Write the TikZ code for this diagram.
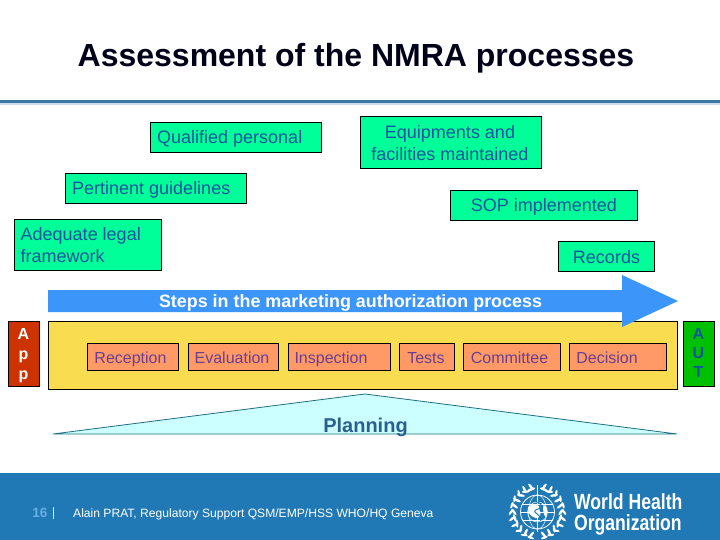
\documentclass[tikz,border=0pt]{standalone}
\usepackage{fontspec}
\setmainfont{Liberation Sans}
\usetikzlibrary{calc}
\definecolor{greenbox}{HTML}{00FF99}
\definecolor{bluetext}{HTML}{10559C}
\definecolor{arrowblue}{HTML}{3C96FA}
\definecolor{yellowbox}{HTML}{FADC50}
\definecolor{orangebox}{HTML}{FF9966}
\definecolor{purpletext}{HTML}{6A3F90}
\definecolor{footblue}{HTML}{2079B4}
\definecolor{rulecol}{HTML}{3B78A5}
\definecolor{trifill}{HTML}{CCFFFF}
\definecolor{tricol}{HTML}{1F6F80}
\definecolor{redbox}{HTML}{CC3300}
\definecolor{autbox}{HTML}{00C000}
\definecolor{plantext}{HTML}{2A6090}
\definecolor{numblue}{HTML}{66AEE8}
\newcommand{\fs}[1]{\fontsize{#1}{#1}\selectfont}
\tikzset{
  x=1pt,y=-1pt,
  gbox/.style={draw=black,line width=1pt,fill=greenbox,inner sep=0pt,anchor=north west},
  gtext/.style={text=bluetext,font=\fs{18},inner sep=0pt,align=left},
  pbox/.style={draw=black,line width=1pt,fill=orangebox,inner sep=0pt,minimum height=27pt,anchor=north west},
  ptext/.style={text=purpletext,font=\fs{16},inner sep=0pt,text height=11.5pt,text depth=3.5pt},
  sidebox/.style={draw=black,line width=.7pt,minimum width=31pt,minimum height=65pt,inner sep=0pt,anchor=north west},
  sidetext/.style={font=\bfseries\fs{16},inner sep=0pt,text height=11.5pt,text depth=3.5pt},
}
\begin{document}
\begin{tikzpicture}
\useasboundingbox (0,0) rectangle (720,540);
\fill[white] (0,0) rectangle (720,540);
% title and rule
\node[font=\bfseries\fs{32},text=black!90!blue,inner sep=0pt] (title) at (356,58) {Assessment of the NMRA processes};
\fill[rulecol] (0,100) rectangle (720,103.5);
\fill[rulecol!25] (0,103.5) rectangle (720,105);
% green boxes
\node[gbox,minimum width=171pt,minimum height=30pt] (qual) at (150,122) {};
\node[gtext,anchor=west] (qualt) at (157,139) {Qualified personal};
\node[gbox,minimum width=181pt,minimum height=30pt] (pert) at (65,173) {};
\node[gtext,anchor=west] (pertt) at (72,190) {Pertinent guidelines};
\node[gbox,minimum width=147pt,minimum height=51pt] (legal) at (14,219) {};
\node[gtext,anchor=west] (legalt) at (20.5,245) {Adequate legal\\[4pt]framework};
\node[gbox,minimum width=181pt,minimum height=52pt] (equip) at (360,116) {};
\node[gtext,align=center] (equipt) at (450,143.5) {Equipments and\\[4pt]facilities maintained};
\node[gbox,minimum width=187pt,minimum height=30pt] (sop) at (450,190) {};
\node[gtext] (sopt) at (544,207) {SOP implemented};
\node[gbox,minimum width=96pt,minimum height=30pt] (rec) at (558,241) {};
\node[gtext] (rect) at (606.5,257) {Records};
% yellow band
\node[draw=black,line width=1pt,fill=yellowbox,minimum width=629pt,minimum height=68pt,inner sep=0pt,anchor=north west] (band) at (48,321) {};
% arrow
\fill[arrowblue] (48,290) -- (622,290) -- (622,275) -- (678,301) -- (622,327) -- (622,312) -- (48,312) -- cycle;
\node[text=white,font=\bfseries\fs{17.9},inner sep=0pt] (steps) at (350.5,303) {Steps in the marketing authorization process};
% side boxes
\node[sidebox,fill=redbox] (app) at (8,321) {};
\node[sidetext,text=white] (app1) at (23.5,335) {A};
\node[sidetext,text=white] (app2) at (23.5,355) {p};
\node[sidetext,text=white] (app3) at (23.5,375) {p};
\node[sidebox,fill=autbox] (aut) at (683,321) {};
\node[sidetext,text=bluetext] (aut1) at (698.5,335) {A};
\node[sidetext,text=bluetext] (aut2) at (698.5,354) {U};
\node[sidetext,text=bluetext] (aut3) at (698.5,373.5) {T};
% process boxes
\node[pbox,minimum width=91pt] (b1) at (87,343) {};
\node[ptext] (b1t) at (130.5,359) {Reception};
\node[pbox,minimum width=90pt] (b2) at (188,343) {};
\node[ptext] (b2t) at (232,359) {Evaluation};
\node[pbox,minimum width=102pt] (b3) at (288,343) {};
\node[ptext] (b3t) at (331,359) {Inspection};
\node[pbox,minimum width=55pt] (b4) at (399,343) {};
\node[ptext] (b4t) at (426,359) {Tests};
\node[pbox,minimum width=97pt] (b5) at (463,343) {};
\node[ptext] (b5t) at (509.5,359) {Committee};
\node[pbox,minimum width=97pt] (b6) at (569,343) {};
\node[ptext] (b6t) at (607,359) {Decision};
% planning
\filldraw[fill=trifill,draw=tricol,line width=.8pt] (53,434) -- (365,394) -- (677,434) -- cycle;
\node[text=plantext,font=\bfseries\fs{20},inner sep=0pt] (plan) at (365.5,427) {Planning};
% footer
\fill[footblue] (0,473) rectangle (720,540);
\node[text=numblue,font=\bfseries\fs{13.5},inner sep=0pt] (num) at (40,512.5) {16};
\fill[white!85!footblue] (53,507) rectangle (53.8,519);
\node[text=white,font=\fs{12.1},anchor=west,inner sep=0pt] (foot) at (73,514) {Alain PRAT, Regulatory Support QSM/EMP/HSS WHO/HQ Geneva};
% WHO emblem
\begin{scope}[shift={(537.5,512)}]
  \draw[white,line width=.8pt] (0,0) circle (17);
  \draw[white,line width=.5pt] (0,0) circle (10);
  \draw[white,line width=.5pt] (-17,0) -- (17,0);
  \draw[white,line width=.5pt] (0,0) ellipse (9 and 17);
  \draw[white,line width=.5pt] (-15,-8) -- (15,-8) (-15,8) -- (15,8);
  \fill[white] (-9,-5) .. controls (-3,-10) and (3,-8) .. (2,-2) .. controls (5,2) and (1,8) .. (-2,6) .. controls (-8,4) and (-10,0) .. cycle;
  \fill[white] (6,-7) .. controls (10,-5) and (11,0) .. (8,5) .. controls (6,2) and (5,-2) .. cycle;
  \draw[white,line width=1.4pt] (0,-27) -- (0,20);
  \draw[footblue,line width=.9pt] (-4,-11) .. controls (6,-9) and (6,-4) .. (-2,-2) .. controls (-7,0) and (6,3) .. (3,9);
  \foreach \a in {105,120,...,255}{
    \fill[white,shift={(\a:23.5)},rotate=\a+125] (0,0) ellipse (4 and 1.3);
    \fill[white,shift={(\a:26.5)},rotate=\a+55] (0,0) ellipse (3.5 and 1.2);
  }
  \foreach \a in {-75,-60,...,75}{
    \fill[white,shift={(\a:23.5)},rotate=\a+55] (0,0) ellipse (4 and 1.3);
    \fill[white,shift={(\a:26.5)},rotate=\a+125] (0,0) ellipse (3.5 and 1.2);
  }
\end{scope}
\node[text=white,font=\bfseries\fs{22},anchor=west,align=left,inner sep=0pt,xscale=.8] (who) at (574,514.5) {World Health\\[-.5pt]Organization};
\end{tikzpicture}
\end{document}
